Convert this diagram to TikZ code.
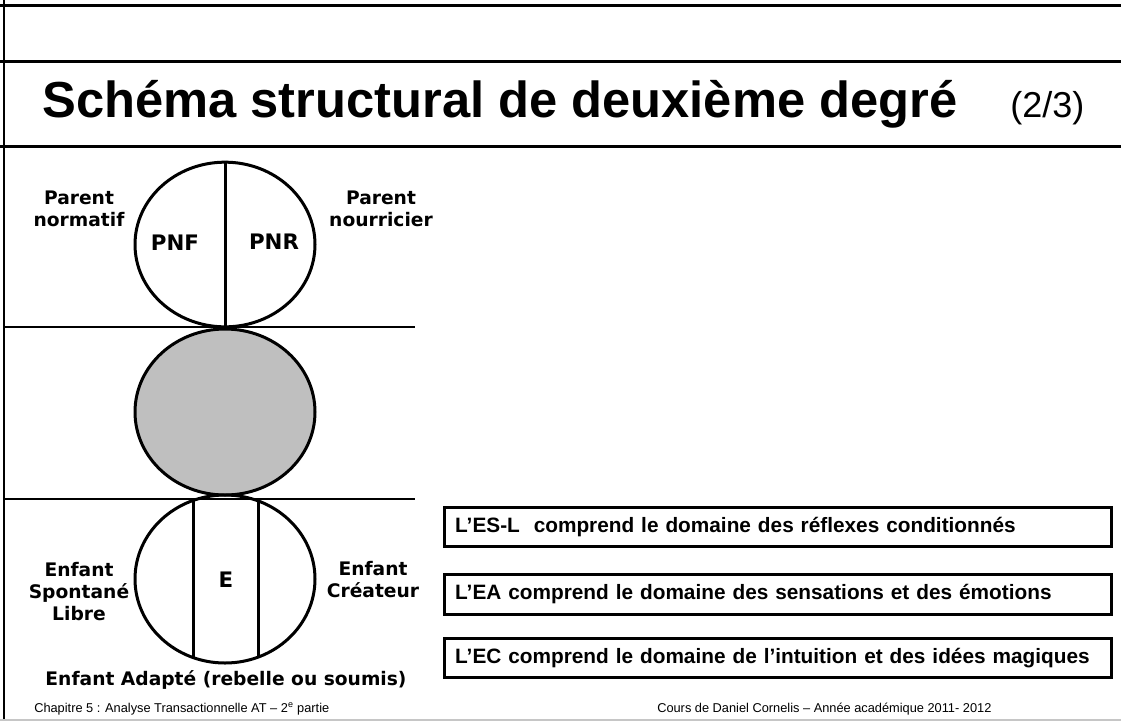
\documentclass[tikz,border=0pt]{standalone}
\usepackage{fontspec}
\setmainfont{Liberation Sans}
\newfontfamily\djv{DejaVu Sans}
\usetikzlibrary{shapes.geometric}

\begin{document}
\begin{tikzpicture}[x=0.75pt, y=-0.75pt,
    rond/.style={draw, ellipse, line width=2.25pt, inner sep=0pt, minimum width=135pt},
    lab/.style={font=\djv\bfseries\fontsize{14}{16.5}\selectfont, align=center, inner sep=0pt},
    sigle/.style={font=\djv\bfseries\fontsize{16}{16}\selectfont, inner sep=0pt},
    boite/.style={draw, line width=2.25pt, anchor=west, minimum height=29.5pt,
        text width=484pt, inner xsep=8pt, align=left,
        font=\bfseries\fontsize{15.6}{16}\selectfont},
    pied/.style={font=\fontsize{9.6}{10}\selectfont, anchor=base west, inner sep=0pt},
    trait/.style={line width=2.25pt}]
    \useasboundingbox (0,0) rectangle (1121,722);

    % Cadre et titre
    \draw[line width=2.25pt] (0,5) -- (1121,5);
    \draw[line width=2.25pt] (0,61) -- (1121,61);
    \draw[line width=2.25pt] (0,146) -- (1121,146);
    \draw[line width=1.5pt] (4,0) -- (4,720);
    \draw[line width=1.5pt, gray!45] (0,720) -- (1121,720);
    \node[anchor=base west, inner sep=0pt, font=\bfseries\fontsize{38}{40}\selectfont]
        (titre) at (42,117) {Schéma structural de deuxième degré};
    \node[anchor=base west, inner sep=0pt, font=\fontsize{27}{30}\selectfont]
        (page) at (1010,117) {(2/3)};

    % Separations
    \draw[line width=1.5pt] (4,327) -- (415,327);
    \draw[line width=1.5pt] (4,499) -- (415,499);

    % Cercles
    \node[rond, minimum height=123.5pt] (parent) at (225,244.5) {};
    \node[rond, minimum height=124.5pt, fill=gray!50] (adulte) at (225,412) {};
    \node[rond, minimum height=126pt] (enfant) at (225,579) {};
    \draw[trait] (parent.north) -- (parent.south);
    \begin{scope}
        \clip (enfant.center) ellipse [x radius=67.5pt, y radius=63pt];
        \draw[trait] (193,490) -- (193,670);
        \draw[trait] (258,490) -- (258,670);
    \end{scope}

    % Etiquettes
    \node[lab] (pn) at (79,209) {Parent\\normatif};
    \node[lab] (pnour) at (381,209) {Parent\\nourricier};
    \node[sigle] (pnf) at (175,243) {PNF};
    \node[sigle] (pnr) at (274,242) {PNR};
    \node[sigle] (e) at (226,580) {E};
    \node[lab] (esl) at (79,592) {Enfant\\Spontané\\Libre};
    \node[lab] (ec) at (373,580) {Enfant\\Créateur};
    \node[lab] (ea) at (226,680) {Enfant Adapté (rebelle ou soumis)};

    % Encadres
    \node[boite] (b1) at (443,527) {L’ES-L\ \ comprend le domaine des réflexes conditionnés};
    \node[boite] (b2) at (443,594.5) {L’EA comprend le domaine des sensations et des émotions};
    \node[boite] (b3) at (443,658) {L’EC comprend le domaine de l’intuition et des idées magiques};

    % Pied de page
    \node[pied] (chap) at (34,712) {Chapitre 5 : Analyse Transactionnelle AT – 2\textsuperscript{e} partie};
    \node[pied] (cours) at (657,712) {Cours de Daniel Cornelis – Année académique 2011- 2012};
\end{tikzpicture}
\end{document}
